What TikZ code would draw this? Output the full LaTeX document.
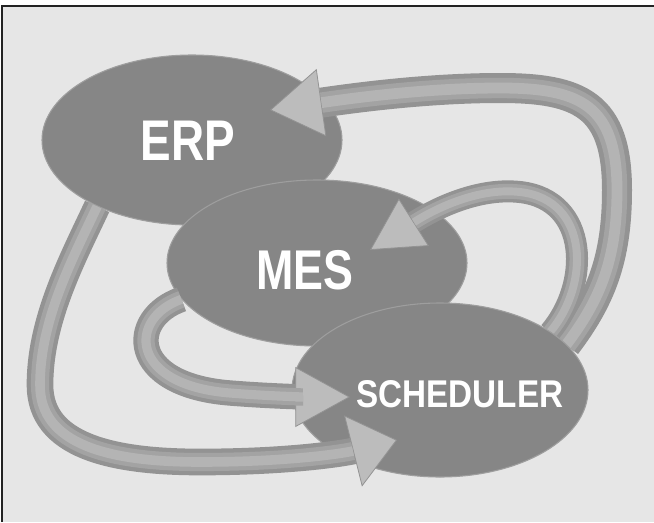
\documentclass[tikz,border=0pt]{standalone}
\usepackage{fontspec}
\newfontfamily\labfont[FakeStretch=0.8]{Liberation Sans}
\newfontfamily\labfontb[FakeStretch=0.86]{Liberation Sans}
\usetikzlibrary{shapes.geometric,arrows.meta}
\definecolor{bggray}{HTML}{E6E6E6}
\definecolor{ellgray}{HTML}{868686}
\definecolor{rimgray}{HTML}{9E9E9E}
\definecolor{arrdark}{HTML}{939393}
\definecolor{arrmid}{HTML}{A3A3A3}
\definecolor{arrlight}{HTML}{B4B4B4}
\definecolor{headfill}{HTML}{BCBCBC}
\definecolor{framecol}{HTML}{222222}
\tikzset{
  ell/.style={ellipse, fill=ellgray, draw=rimgray, line width=0.8pt, inner sep=0pt},
  lab/.style={text=white, inner sep=0pt},
  tube/.style n args={3}{draw=arrdark, line cap=butt, line width=#1,
    -{Triangle[length=#2,width=#3,line width=0.6pt,fill=headfill]},
    postaction={draw=arrmid, line width=0.68*#1, -, shorten >=#2},
    postaction={draw=arrlight, line width=0.36*#1, -, shorten >=#2}},
}
\begin{document}
\begin{tikzpicture}[x=0.75pt,y=-0.75pt]
\useasboundingbox (0,0) rectangle (654,522);
\fill[white] (0,0) rectangle (654,522);
\fill[bggray] (2,6) rectangle (654,522);
\draw[framecol, line width=1.2pt] (2,522) -- (2,6) -- (654,6);

% ellipses
\node[ell, minimum width=225pt, minimum height=127.5pt] (erp) at (192,140) {};
\node[ell, minimum width=225pt, minimum height=124.5pt] (mes) at (317,263) {};

% arrow tips (free ends)
\coordinate (t1) at (270,110);
\coordinate (t2) at (370,250);
\coordinate (t3) at (397,440);
\coordinate (t4) at (350,397);
\coordinate (s1) at (566,345);
\coordinate (s2) at (550,332);

% SCHEDULER -> ERP (outer right)
\draw[tube={22.5pt}{39pt}{51pt}]
  (s1)
  .. controls (600,300) and (617,260) .. (617,190)
  .. controls (617,105) and (580,88) .. (500,88)
  .. controls (420,88) and (340,100) .. (t1);

% SCHEDULER -> MES (inner right)
\draw[tube={16.5pt}{39pt}{42pt}]
  (s2)
  .. controls (590,285) and (590,200) .. (520,192)
  .. controls (475,187) and (430,212) .. (t2);

\node[ell, minimum width=222pt, minimum height=130.5pt] (sch) at (440,390) {};

% ERP -> SCHEDULER (outer left)
\draw[tube={20pt}{34pt}{55pt}]
  (erp.215)
  .. controls (72,260) and (40,320) .. (40,385)
  .. controls (40,445) and (110,462) .. (200,462)
  .. controls (290,462) and (345,453) .. (t3);

% MES -> SCHEDULER (inner left)
\draw[tube={19pt}{41pt}{45pt}]
  (mes.195)
  .. controls (128,318) and (128,385) .. (230,393)
  .. controls (280,397) and (320,397) .. (t4);

% labels
\node[lab, font=\labfont\bfseries\fontsize{43pt}{43pt}\selectfont] (lerp) at (188,141) {ERP};
\node[lab, font=\labfont\bfseries\fontsize{42pt}{42pt}\selectfont] (lmes) at (305,270) {MES};
\node[lab, font=\labfontb\bfseries\fontsize{29pt}{29pt}\selectfont] (lsch) at (460,394) {SCHEDULER};
\end{tikzpicture}
\end{document}
